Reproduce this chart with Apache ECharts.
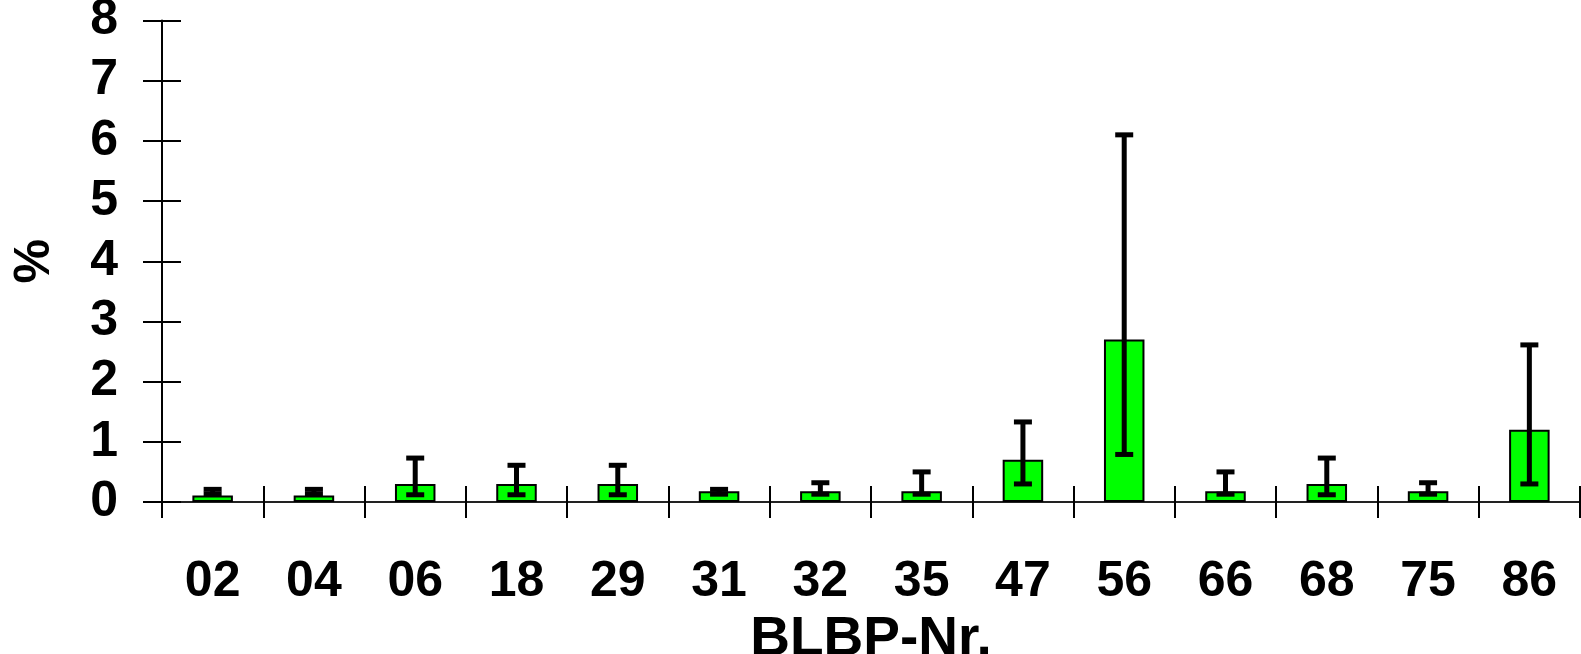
<!DOCTYPE html>
<html>
<head>
<meta charset="utf-8">
<script src="https://cdn.jsdelivr.net/npm/echarts@6/dist/echarts.min.js"></script>
<style>
  html, body { margin: 0; padding: 0; background: #fff; }
  #chart { width: 1581px; height: 654px; }
</style>
</head>
<body>
<div id="chart"></div>
<script>
// BLBP numbers on the x axis
const categories = ['02', '04', '06', '18', '29', '31', '32', '35', '47', '56', '66', '68', '75', '86'];
// bar heights (%)
const values = [0.11, 0.11, 0.3, 0.3, 0.3, 0.18, 0.18, 0.18, 0.7, 2.7, 0.18, 0.3, 0.18, 1.2];
// error bar ends
const lowValues = [0.13, 0.13, 0.12, 0.12, 0.12, 0.13, 0.13, 0.13, 0.3, 0.79, 0.13, 0.12, 0.13, 0.3];
const highValues = [0.21, 0.21, 0.73, 0.61, 0.61, 0.21, 0.32, 0.5, 1.33, 6.1, 0.5, 0.73, 0.32, 2.61];
const yTicks = [0, 1, 2, 3, 4, 5, 6, 7, 8];

const FONT = '"Liberation Sans", Arial, sans-serif';

const chart = echarts.init(document.getElementById('chart'));

const errData = categories.map((c, i) => [i, lowValues[i], highValues[i]]);

// error bars: vertical line + caps at both ends
function renderError(params, api) {
    const x = api.value(0);
    const lo = api.coord([x, api.value(1)]);
    const hi = api.coord([x, api.value(2)]);
    const half = 9;
    const style = { stroke: '#000', lineWidth: 5 };
    return {
        type: 'group',
        children: [
            { type: 'line', shape: { x1: lo[0], y1: lo[1], x2: hi[0], y2: hi[1] }, style: style },
            { type: 'line', shape: { x1: hi[0] - half, y1: hi[1], x2: hi[0] + half, y2: hi[1] }, style: style },
            { type: 'line', shape: { x1: lo[0] - half, y1: lo[1], x2: lo[0] + half, y2: lo[1] }, style: style }
        ]
    };
}

const option = {
    animation: false,
    backgroundColor: '#fff',
    grid: { left: 162, right: 1, top: 20.5, bottom: 152, outerBoundsMode: 'none', containLabel: false },
    xAxis: [{
        type: 'category',
        data: categories,
        position: 'bottom',
        axisLine: { show: true, lineStyle: { color: '#222', width: 2 } },
        axisTick: { show: true, length: 16, lineStyle: { color: '#000', width: 2 } },
        axisLabel: { margin: 55, fontFamily: FONT, fontWeight: 'bold', fontSize: 50, color: '#000' },
        name: 'BLBP-Nr.',
        nameLocation: 'middle',
        nameGap: 100,
        nameTextStyle: { fontFamily: FONT, fontWeight: 'bold', fontSize: 55, color: '#000' }
    }, {
        type: 'category',
        data: categories,
        position: 'bottom',
        offset: 0,
        axisLine: { show: false },
        axisTick: { show: true, inside: true, length: 16, lineStyle: { color: '#000', width: 2 } },
        axisLabel: { show: false }
    }],
    yAxis: [{
        type: 'value',
        min: yTicks[0],
        max: yTicks[yTicks.length - 1],
        interval: 1,
        position: 'left',
        axisLine: { show: true, lineStyle: { color: '#000', width: 2 } },
        axisTick: { show: true, length: 19, lineStyle: { color: '#000', width: 2 } },
        splitLine: { show: false },
        axisLabel: { margin: 44, fontFamily: FONT, fontWeight: 'bold', fontSize: 50, color: '#000' },
        name: '%',
        nameLocation: 'middle',
        nameRotate: 90,
        nameGap: 102,
        nameTextStyle: { fontFamily: FONT, fontWeight: 'bold', fontSize: 50, color: '#000' }
    }, {
        type: 'value',
        min: yTicks[0],
        max: yTicks[yTicks.length - 1],
        interval: 1,
        position: 'left',
        offset: 0,
        axisLine: { show: false },
        axisTick: { show: true, inside: true, length: 19, lineStyle: { color: '#000', width: 2 } },
        splitLine: { show: false },
        axisLabel: { show: false }
    }],
    series: [{
        type: 'bar',
        data: values,
        barWidth: '40%',
        itemStyle: { color: '#00ff00', borderColor: '#000', borderWidth: 2 }
    }, {
        type: 'custom',
        data: errData,
        renderItem: renderError,
        z: 5
    }]
};

chart.setOption(option);
</script>
</body>
</html>
